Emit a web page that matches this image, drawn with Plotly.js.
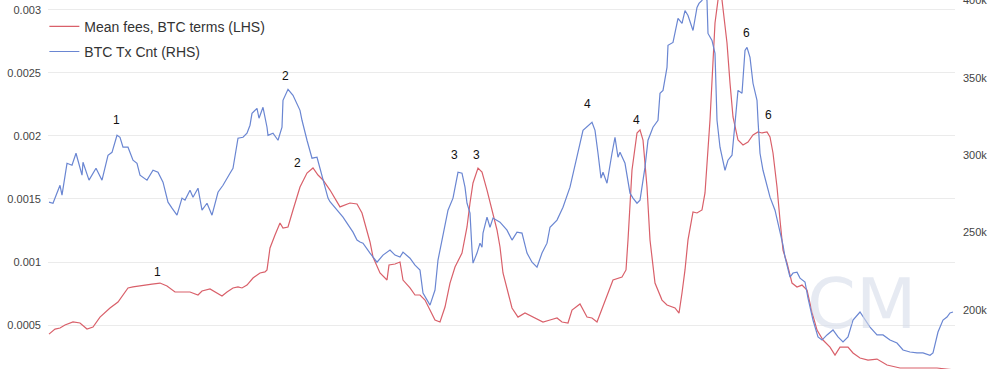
<!DOCTYPE html>
<html>
<head>
<meta charset="utf-8">
<script src="https://cdn.plot.ly/plotly-3.0.1.min.js"></script>
<style>html,body{margin:0;padding:0;background:#fff;}#chart{width:1000px;height:369px;}</style>
</head>
<body>
<div id="chart"></div>
<script>
// Time index (days from start of window)
const feeT = [1,7,12,17,25,32,39,45,52,62,70,80,85,95,104,112,119,127,134,142,150,154,162,167,174,179,185,190,194,199,205,212,217,219,222,227,232,235,240,245,252,259,265,270,275,282,292,302,309,314,319,322,325,332,339,341,347,352,355,362,367,372,377,382,387,392,397,402,407,414,419,422,425,430,434,439,444,449,452,455,464,470,477,485,495,502,509,514,520,524,532,539,544,549,555,565,574,578,580,584,589,592,595,599,602,607,614,619,627,631,634,637,640,645,649,654,657,659,662,667,670,672,674,679,682,685,690,695,700,705,710,714,719,722,725,729,732,735,739,744,749,754,759,764,769,775,782,787,792,800,805,812,820,829,839,852,865,879,889,907];
const feeVal = [0.000428,0.000468,0.000476,0.0005,0.000524,0.000516,0.000468,0.000484,0.000563,0.000635,0.000682,0.000794,0.000802,0.000817,0.000825,0.000833,0.00081,0.000762,0.000762,0.000762,0.000738,0.00077,0.000786,0.000762,0.00073,0.000762,0.000794,0.000802,0.000794,0.000817,0.000873,0.000913,0.000921,0.000937,0.001111,0.001214,0.00131,0.00127,0.001278,0.001413,0.001595,0.001706,0.001746,0.00169,0.001651,0.001571,0.001437,0.001468,0.00146,0.001389,0.001254,0.001159,0.00104,0.000913,0.000857,0.000976,0.000984,0.001,0.000857,0.000794,0.000738,0.000738,0.000698,0.000619,0.00054,0.000524,0.000643,0.000833,0.00096,0.001071,0.001278,0.001468,0.001627,0.001746,0.001714,0.001571,0.001413,0.001254,0.001119,0.000913,0.000635,0.000563,0.000595,0.000563,0.000524,0.00054,0.000556,0.000524,0.000516,0.000619,0.000667,0.000563,0.000556,0.000524,0.000643,0.000857,0.000881,0.000937,0.001175,0.00173,0.002024,0.002048,0.001968,0.001595,0.001175,0.000833,0.000698,0.000659,0.000635,0.000595,0.000754,0.000937,0.001175,0.001397,0.001389,0.001413,0.001548,0.001754,0.002127,0.002897,0.003079,0.0032,0.003079,0.002738,0.002421,0.002151,0.001968,0.001929,0.001952,0.002008,0.002032,0.002024,0.002032,0.001992,0.001865,0.001595,0.001333,0.001095,0.000992,0.000833,0.000802,0.000817,0.000778,0.000603,0.00046,0.000381,0.000325,0.000262,0.000325,0.000325,0.000278,0.000238,0.000222,0.00023,0.000183,0.000159,0.000159,0.000159,0.000159,0.000143];

const txT = [1,5,12,14,19,24,28,34,35,41,48,54,60,64,69,72,75,80,85,89,92,99,105,110,115,120,124,129,134,137,142,145,150,154,159,164,170,175,182,185,190,195,199,202,204,209,211,215,219,220,225,230,234,235,240,245,252,254,259,264,269,274,280,282,295,305,309,312,315,322,329,335,342,347,352,355,362,367,372,375,380,382,387,390,394,400,405,410,414,417,419,422,424,425,429,432,434,435,439,442,445,452,459,464,469,474,479,484,489,494,499,502,509,515,522,529,535,544,547,550,553,555,559,564,567,570,572,577,582,585,589,592,597,600,605,610,612,615,619,620,625,630,634,637,640,645,649,651,654,656,659,660,664,667,669,672,677,680,684,687,690,694,697,699,702,705,709,710,712,715,722,727,732,735,737,742,745,749,752,757,760,765,770,774,779,785,790,795,800,805,812,817,822,829,835,842,849,855,862,869,875,882,885,890,895,899,902,905];
const txVal = [269700,269000,280600,274200,294800,293500,301300,287100,295500,283900,291600,283900,300000,301900,312900,311600,305200,305200,296800,294800,287100,283900,290300,289000,282600,269700,265800,261300,272300,271000,277400,272900,278700,264500,269000,261300,276100,280600,288400,291600,311000,311600,314200,319400,327100,330300,323900,331000,318100,312900,314200,309700,318100,335500,342600,338700,329000,322600,309700,298100,298700,287100,272300,270000,260000,250300,245200,243900,243200,236800,230900,235500,238700,235500,234200,237400,233500,229000,225800,210900,205200,203200,212900,232300,245200,264500,272300,289000,288400,279400,269000,262600,238700,230300,236800,243200,240600,249700,260000,253500,259400,256800,251600,245200,250300,249700,236800,230900,227700,236800,243200,253500,258100,266400,279400,298700,316100,321300,316100,301300,285200,289000,281900,301300,311600,298700,301900,294800,275500,272300,269000,271000,292300,309700,318100,322600,340000,341900,356800,371000,372900,388400,385200,393500,390300,380600,395500,398100,400000,404000,400000,378700,374200,365800,322600,305200,290300,296800,300000,320600,341900,340000,367700,369700,363200,346500,335500,322600,301300,290300,272900,264500,251600,242000,234200,221300,223900,224500,220600,218100,207700,193500,182600,180600,183900,187100,182600,179400,182600,193500,198700,193500,189000,183900,183900,180600,178700,174200,172900,172300,172300,170800,172300,185800,193500,195500,198100,198700];

const leftTickVals = [0.0005, 0.001, 0.0015, 0.002, 0.0025, 0.003];
const leftTickText = ['0.0005', '0.001', '0.0015', '0.002', '0.0025', '0.003'];
const rightTickVals = [200000, 250000, 300000, 350000, 400000];
const rightTickText = ['200k', '250k', '300k', '350k', '400k'];

// Numbered episode labels: series, time index, value, label
const labelSeries = ['tx', 'fee', 'tx', 'fee', 'tx', 'fee', 'tx', 'fee', 'tx', 'fee'];
const labelT = [68, 109, 237, 249, 406, 428, 539, 588, 698, 720];
const labelVal = [322600, 0.000921, 351000, 0.001786, 300000, 0.001849, 332900, 0.002127, 378700, 0.002167];
const labelText = ['1', '1', '2', '2', '3', '3', '4', '4', '6', '6'];

const traces = [
  {x: feeT, y: feeVal, type: 'scatter', mode: 'lines', name: 'Mean fees, BTC terms (LHS)', legendgroup: 'a',
   line: {color: '#d9606a', width: 1.2}, yaxis: 'y', hoverinfo: 'skip'},
  {x: txT, y: txVal, type: 'scatter', mode: 'lines', name: 'BTC Tx Cnt (RHS)', legendgroup: 'b',
   line: {color: '#6a86d2', width: 1.2}, yaxis: 'y2', hoverinfo: 'skip'}
];

const annotations = labelT.map((t, i) => ({
  x: t, y: labelVal[i], xref: 'x', yref: labelSeries[i] === 'fee' ? 'y' : 'y2',
  xanchor: 'center', yanchor: 'middle',
  text: labelText[i], showarrow: false, font: {family: 'Liberation Sans, Arial, sans-serif', size: 12, color: '#111'}
}));
annotations.push({
  x: 0.897, y: 0.176, xref: 'paper', yref: 'paper', xanchor: 'center', yanchor: 'middle', text: 'CM', showarrow: false,
  font: {family: 'DejaVu Sans', size: 70, color: 'rgba(214,220,233,0.6)'}
});

const layout = {
  width: 1000, height: 369,
  margin: {l: 48, r: 45, t: 0, b: 0, pad: 0},
  paper_bgcolor: '#fff', plot_bgcolor: '#fff',
  showlegend: true,
  legend: {x: -0.004, y: 0.971, xanchor: 'left', yanchor: 'top', bgcolor: 'rgba(255,255,255,1)',
    traceorder: 'grouped', tracegroupgap: 4,
    font: {family: 'Liberation Sans, Arial, sans-serif', size: 14, color: '#333'}},
  xaxis: {range: [0, 907], showgrid: false, zeroline: false, showticklabels: false, showline: false, ticks: '', fixedrange: true},
  yaxis: {range: [0.000151, 0.003079], tickvals: leftTickVals, ticktext: leftTickText, showgrid: true,
    gridcolor: '#ebebeb', gridwidth: 1, zeroline: false, showline: false, ticks: '', ticklabelstandoff: 6,
    ticklabeloverflow: 'allow',
    tickfont: {family: 'Liberation Sans, Arial, sans-serif', size: 11, color: '#444'}},
  yaxis2: {range: [161900, 400300], overlaying: 'y', side: 'right', tickvals: rightTickVals, ticktext: rightTickText,
    showgrid: false, zeroline: false, showline: false, ticks: '', ticklabelstandoff: 7,
    ticklabeloverflow: 'allow',
    tickfont: {family: 'Liberation Sans, Arial, sans-serif', size: 11, color: '#444'}},
  annotations: annotations
};

Plotly.newPlot('chart', traces, layout, {displayModeBar: false, staticPlot: true});
</script>
</body>
</html>
